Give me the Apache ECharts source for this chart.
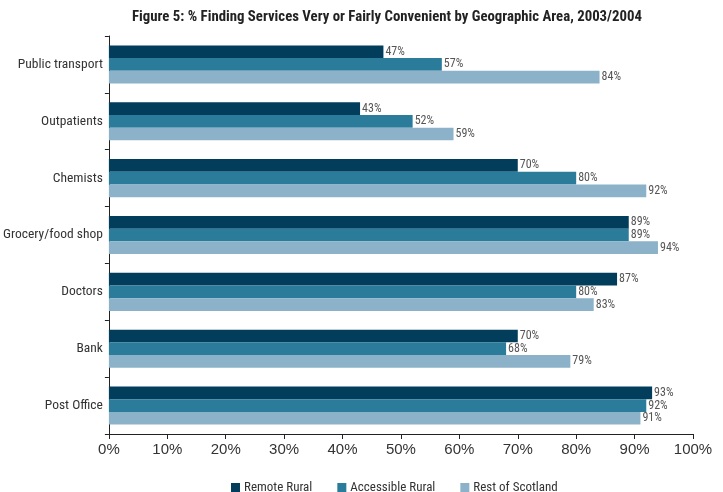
<!DOCTYPE html>
<html><head><meta charset="utf-8">
<script src="https://cdn.jsdelivr.net/npm/echarts@6/dist/echarts.min.js"></script>
<style>html,body{margin:0;padding:0;background:#fff}#c{width:723px;height:492px}</style>
</head><body><div id="c"></div>
<script>
const categories = ['Public transport','Outpatients','Chemists','Grocery/food shop','Doctors','Bank','Post Office'];
const seriesNames = ['Remote Rural','Accessible Rural','Rest of Scotland'];
const remoteRural = [47,43,70,89,87,70,93];
const accessibleRural = [57,52,80,89,80,68,92];
const restOfScotland = [84,59,92,94,83,79,91];
const xTicks = [0,10,20,30,40,50,60,70,80,90,100];
const colors = ['#023d5c','#2b7b9a','#8bb2c9'];
const FONT = '"Liberation Sans Narrow","Arial Narrow","Roboto Condensed",sans-serif';
const values = [remoteRural, accessibleRural, restOfScotland];
const chart = echarts.init(document.getElementById('c'));
chart.setOption({
  animation:false,
  title:{text:'Figure 5: % Finding Services Very or Fairly Convenient by Geographic Area, 2003/2004',
    left:382, top:5, textAlign:'center',
    textStyle:{fontFamily:FONT,fontWeight:'bold',fontSize:14.8,color:'#222'}},
  legend:{top:476, left:226, itemWidth:9, itemHeight:9, itemGap:25, icon:'rect',
    textStyle:{fontFamily:FONT,fontSize:13,color:'#333',padding:[0,0,0,-1]}, data:seriesNames},
  grid:{left:108, right:30, top:36, bottom:58, containLabel:false},
  xAxis:{type:'value', min:0, max:100, interval:10,
    axisLine:{show:true,lineStyle:{color:'#222',width:1}},
    axisTick:{show:true,length:5,lineStyle:{color:'#222'}},
    splitLine:{show:false},
    axisLabel:{fontFamily:'"Liberation Sans",Arial,sans-serif',fontSize:15,color:'#333',margin:8,formatter:v=>v+'%'}},
  yAxis:{type:'category', data:categories, inverse:true,
    axisLine:{show:true,lineStyle:{color:'#222',width:1}},
    axisTick:{show:true,length:4,lineStyle:{color:'#222'}},
    axisLabel:{fontFamily:FONT,fontSize:13.5,color:'#333',margin:6}},
  series: seriesNames.map((n,i)=>({
    name:n, type:'bar', data:values[i], barGap:'0%', barCategoryGap:'33%',
    itemStyle:{color:colors[i]},
    label:{show:true, position:'right', distance:2, formatter:'{c}%',
      fontFamily:FONT, fontSize:12, color:'#555'}
  }))
});
</script></body></html>
